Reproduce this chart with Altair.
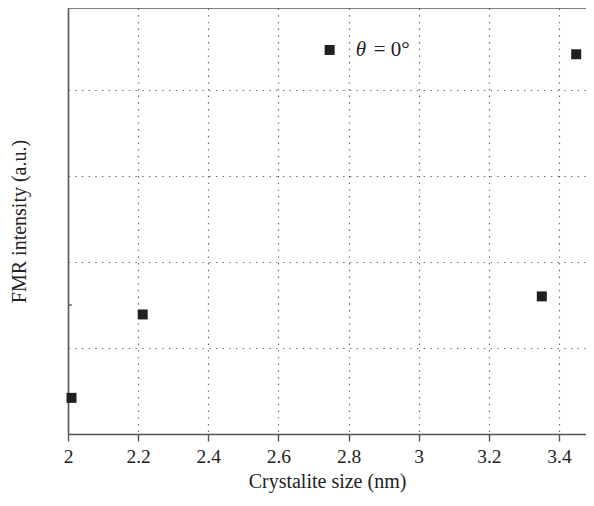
import altair as alt
import pandas as pd

# data
crystallite_size = [2.01, 2.213, 3.351, 3.449]
fmr_intensity = [0.42, 1.39, 1.60, 4.415]

legend_x = [2.746]
legend_y = [4.465]
legend_label = "θ = 0°"

x_major = [2.0, 2.2, 2.4, 2.6, 2.8, 3.0, 3.2, 3.4]
x_minor = [2.1, 2.3, 2.5, 2.7, 2.9, 3.1, 3.3]
y_grid = [1, 2, 3, 4]
y_minor_ticks = [1.5]

X_DOMAIN = [2.0, 3.477]
Y_DOMAIN = [0.0, 4.953]

FONT = "Liberation Serif"
AXIS_COLOR = "#555555"
GRID_COLOR = "#666666"
MARK_COLOR = "#231f20"
TEXT_COLOR = "#222222"

df = pd.DataFrame({"x": crystallite_size, "y": fmr_intensity})
leg = pd.DataFrame({"x": legend_x, "y": legend_y})

major_test = "abs(datum.value*5 - round(datum.value*5)) < 0.001"

x_scale = alt.Scale(domain=X_DOMAIN, nice=False, zero=False)
y_scale = alt.Scale(domain=Y_DOMAIN, nice=False, zero=False)

x_axis = alt.Axis(
    values=sorted(x_major + x_minor),
    title="Crystalite size (nm)",
    titleFont=FONT, titleFontSize=20, titleFontWeight="normal", titleColor=TEXT_COLOR,
    titlePadding=6,
    labelFont=FONT, labelFontSize=19.5, labelColor=TEXT_COLOR,
    labelExpr=f"({major_test}) ? format(datum.value, '~g') : ''",
    labelPadding=6,
    labelFlush=False,
    labelOverlap=False,
    domainColor=AXIS_COLOR, domainWidth=1.6,
    tickColor=AXIS_COLOR, tickWidth=1.4,
    tickSize={"condition": {"test": major_test, "value": 7}, "value": 4},
    grid=True,
    gridColor=GRID_COLOR, gridWidth=1.2, gridDash=[1.4, 5.3],
    gridOpacity={"condition": {"test": f"({major_test}) && datum.value > 2.05", "value": 1}, "value": 0},
)

y_axis = alt.Axis(
    values=y_grid,
    title="FMR intensity (a.u.)",
    titleFont=FONT, titleFontSize=20, titleFontWeight="normal", titleColor=TEXT_COLOR,
    titlePadding=39,
    labels=False,
    ticks=False,
    domainColor=AXIS_COLOR, domainWidth=1.6,
    grid=True,
    gridColor=GRID_COLOR, gridWidth=1.2, gridDash=[1.4, 5.3],
)

points = alt.Chart(df).mark_square(size=100, color=MARK_COLOR, opacity=1).encode(
    x=alt.X("x:Q", scale=x_scale, axis=x_axis),
    y=alt.Y("y:Q", scale=y_scale, axis=y_axis),
)

legend_marker = alt.Chart(leg).mark_square(size=100, color=MARK_COLOR, opacity=1).encode(
    x=alt.X("x:Q", scale=x_scale),
    y=alt.Y("y:Q", scale=y_scale),
)

theta_text = alt.Chart(leg).mark_text(
    text=legend_label.split(" ")[0], font=FONT, fontSize=21, fontStyle="italic",
    align="left", baseline="middle", dx=26, color=TEXT_COLOR,
).encode(x=alt.X("x:Q", scale=x_scale), y=alt.Y("y:Q", scale=y_scale))

rest_text = alt.Chart(leg).mark_text(
    text=" ".join(legend_label.split(" ")[1:]), font=FONT, fontSize=21,
    align="left", baseline="middle", dx=44, color=TEXT_COLOR,
).encode(x=alt.X("x:Q", scale=x_scale), y=alt.Y("y:Q", scale=y_scale))

top_frame = alt.Chart(leg).mark_rule(color=AXIS_COLOR, strokeWidth=1.6).encode(
    y=alt.datum(Y_DOMAIN[1]),
    x=alt.datum(X_DOMAIN[0], scale=x_scale),
    x2=alt.datum(X_DOMAIN[1]),
)

y_ticks_df = pd.DataFrame({"y": y_minor_ticks})
y_ticks = alt.Chart(y_ticks_df).mark_rule(color=AXIS_COLOR, strokeWidth=1.4).encode(
    y=alt.Y("y:Q", scale=y_scale),
    x=alt.datum(X_DOMAIN[0]),
    x2=alt.datum(2.011),
)

chart = alt.layer(top_frame, y_ticks, points, legend_marker, theta_text, rest_text).properties(
    width=518,
    height=426,
    autosize=alt.AutoSizeParams(type="none"),
    padding={"left": 60, "top": 0, "right": 0, "bottom": 60},
    background="white",
).configure_view(stroke=None)

chart.save("out.html", embed_options={"renderer": "svg", "actions": False})
